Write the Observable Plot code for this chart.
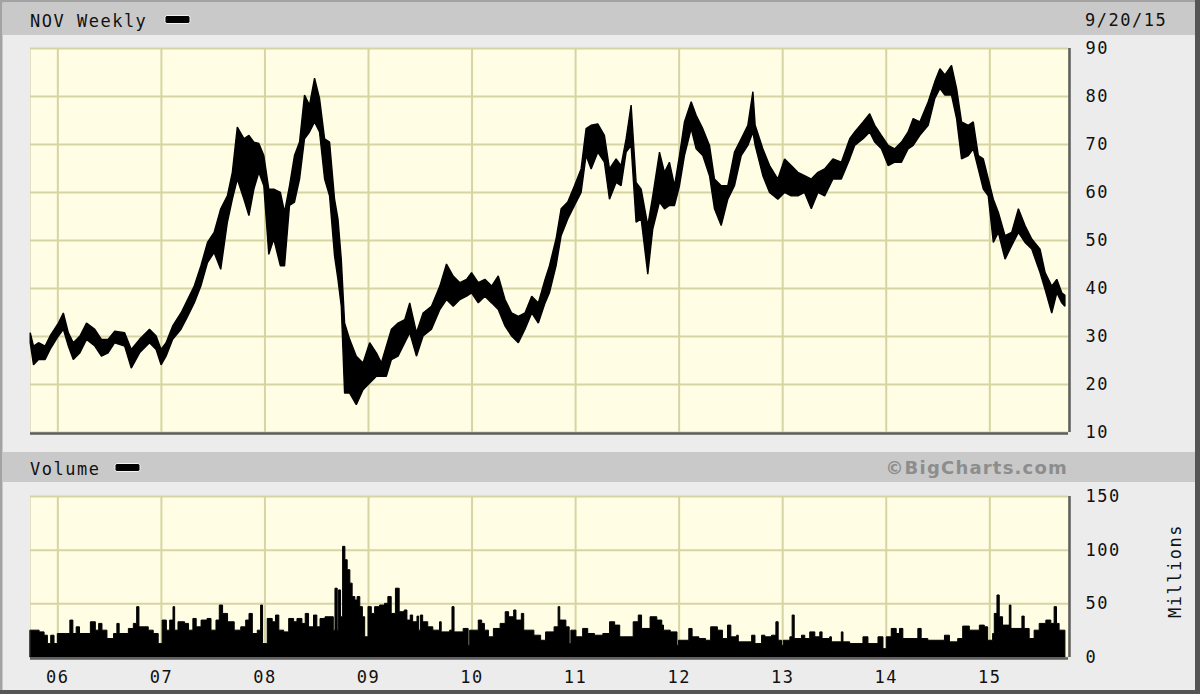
<!DOCTYPE html>
<html>
<head>
<meta charset="utf-8">
<script src="https://cdn.jsdelivr.net/npm/d3@7"></script>
<script src="https://cdn.jsdelivr.net/npm/@observablehq/plot@0.6"></script>
<style>
  html, body { margin: 0; padding: 0; background: #ececec; }
  #chart { position: relative; width: 1200px; height: 694px; background: #ececec; overflow: hidden; }
  #chart > svg, #chart > figure { position: absolute; margin: 0; }
</style>
</head>
<body>
<div id="chart"></div>
<script>
// ---------- data (time in decimal years) ----------
const priceT = [2005.738,2005.770,2005.818,2005.882,2005.930,2006.010,2006.058,2006.106,2006.154,2006.218,2006.282,2006.362,2006.426,2006.490,2006.554,2006.650,2006.714,2006.794,2006.890,2006.954,2007.002,2007.050,2007.114,2007.194,2007.258,2007.322,2007.386,2007.450,2007.514,2007.578,2007.642,2007.690,2007.738,2007.802,2007.850,2007.898,2007.946,2007.994,2008.042,2008.090,2008.154,2008.194,2008.242,2008.290,2008.339,2008.387,2008.435,2008.484,2008.532,2008.581,2008.629,2008.677,2008.710,2008.742,2008.774,2008.823,2008.887,2008.952,2009.016,2009.081,2009.129,2009.177,2009.226,2009.290,2009.355,2009.403,2009.468,2009.532,2009.613,2009.694,2009.758,2009.823,2009.887,2009.952,2010.000,2010.065,2010.129,2010.194,2010.258,2010.323,2010.387,2010.452,2010.516,2010.581,2010.645,2010.710,2010.752,2010.816,2010.865,2010.929,2010.994,2011.058,2011.106,2011.155,2011.219,2011.283,2011.332,2011.396,2011.444,2011.493,2011.541,2011.589,2011.638,2011.702,2011.750,2011.815,2011.863,2011.911,2011.960,2012.008,2012.056,2012.121,2012.169,2012.233,2012.298,2012.346,2012.411,2012.475,2012.539,2012.604,2012.668,2012.717,2012.739,2012.813,2012.878,2012.958,2013.023,2013.087,2013.151,2013.216,2013.281,2013.345,2013.410,2013.490,2013.571,2013.652,2013.700,2013.781,2013.845,2013.894,2013.958,2014.023,2014.087,2014.152,2014.216,2014.265,2014.329,2014.410,2014.474,2014.523,2014.571,2014.635,2014.684,2014.732,2014.797,2014.845,2014.894,2014.942,2014.990,2015.039,2015.087,2015.152,2015.216,2015.281,2015.345,2015.410,2015.490,2015.539,2015.603,2015.652,2015.700,2015.730];
const priceHigh = [30.7,27.9,28.6,27.9,30.0,32.7,34.8,30.7,28.6,30.0,32.7,31.4,29.3,29.3,31.0,30.7,27.2,29.3,31.4,30.0,27.2,28.6,32.1,34.8,37.6,40.4,44.6,49.5,51.6,56.5,59.2,64.1,73.5,71.1,71.8,70.4,70.1,67.6,60.6,60.6,59.9,55.8,61.3,67.6,70.4,80.2,78.1,83.7,79.5,71.1,70.4,58.5,54.4,46.0,32.7,29.3,25.8,24.4,28.6,26.5,24.4,27.9,31.4,32.7,33.4,36.9,30.7,34.8,36.2,40.4,45.0,42.5,41.1,41.8,43.2,41.1,41.8,40.4,42.5,37.6,34.8,34.1,34.8,38.3,36.9,41.8,44.6,50.2,56.5,57.9,61.3,64.8,73.2,73.9,74.2,71.8,64.8,66.9,65.5,71.1,78.1,62.0,60.6,53.0,59.2,68.3,64.1,66.2,61.3,67.6,74.6,78.8,76.0,73.2,69.7,62.7,61.3,61.3,68.3,71.1,73.9,80.9,73.9,69.0,65.5,62.7,66.9,65.5,64.1,63.4,62.7,64.1,64.8,66.9,66.2,71.1,72.5,74.6,76.3,73.9,71.8,69.7,69.0,70.4,72.5,75.3,74.6,78.8,83.0,85.7,84.4,86.4,81.6,74.6,73.9,74.6,67.6,66.9,62.7,58.5,55.8,50.9,51.6,56.5,53.0,50.2,48.1,43.2,40.4,41.8,39.0,38.5];
const priceLow = [28.6,24.0,25.1,25.1,27.2,30.0,31.4,27.9,25.1,26.5,29.3,27.9,25.8,26.5,28.6,27.9,23.3,26.5,28.6,27.2,24.0,25.8,29.3,31.4,34.1,36.9,40.4,45.3,47.4,43.9,53.7,58.5,62.7,58.5,55.1,60.6,64.1,61.3,47.0,50.2,44.6,44.6,57.2,57.9,62.7,71.1,72.5,74.6,72.5,62.7,59.2,46.7,41.8,36.2,18.1,18.1,15.7,18.8,20.2,21.6,21.6,21.6,25.1,25.8,28.6,30.7,25.8,30.0,31.4,35.5,37.6,36.2,37.6,38.3,39.0,36.9,38.3,36.9,35.5,32.1,30.0,28.6,31.4,34.8,32.7,36.9,39.0,44.6,50.9,54.4,57.2,59.9,67.6,64.8,68.3,66.2,58.5,62.0,61.3,68.3,69.7,53.7,54.4,42.9,52.3,57.9,56.5,57.2,57.2,61.3,67.6,73.2,69.0,67.6,63.4,56.5,53.0,58.5,61.3,67.6,69.7,72.5,69.7,63.4,59.9,58.5,59.9,59.2,59.2,59.9,56.5,59.9,59.2,62.7,62.7,66.9,69.7,71.1,72.5,70.4,69.0,65.5,66.2,66.2,69.0,69.7,71.8,73.9,79.5,81.6,80.2,80.2,75.3,66.9,67.6,69.0,64.8,60.6,59.2,49.5,51.6,46.0,48.8,51.6,49.5,48.1,43.2,39.7,34.8,39.0,36.9,36.2];

// weekly volume, millions (segment start times)
const volumeT = [2005.738,2005.824,2005.872,2005.904,2005.936,2005.968,2006.000,2006.080,2006.121,2006.150,2006.182,2006.214,2006.319,2006.367,2006.399,2006.431,2006.479,2006.543,2006.575,2006.597,2006.686,2006.734,2006.766,2006.788,2006.878,2006.926,2006.974,2007.012,2007.053,2007.085,2007.117,2007.133,2007.165,2007.229,2007.267,2007.309,2007.341,2007.388,2007.446,2007.484,2007.532,2007.564,2007.596,2007.644,2007.708,2007.771,2007.819,2007.851,2007.883,2007.931,2007.963,2007.982,2008.027,2008.075,2008.107,2008.139,2008.186,2008.234,2008.282,2008.314,2008.362,2008.394,2008.426,2008.474,2008.506,2008.537,2008.585,2008.633,2008.665,2008.681,2008.703,2008.716,2008.735,2008.755,2008.777,2008.799,2008.825,2008.847,2008.873,2008.895,2008.921,2008.946,2008.968,2009.000,2009.032,2009.064,2009.112,2009.160,2009.192,2009.224,2009.265,2009.301,2009.350,2009.376,2009.408,2009.431,2009.473,2009.489,2009.506,2009.528,2009.577,2009.626,2009.691,2009.707,2009.789,2009.811,2009.831,2009.919,2009.967,2009.982,2010.016,2010.065,2010.098,2010.124,2010.163,2010.211,2010.276,2010.325,2010.358,2010.407,2010.429,2010.481,2010.504,2010.602,2010.667,2010.715,2010.797,2010.836,2010.852,2010.911,2010.943,2010.959,2011.008,2011.073,2011.122,2011.187,2011.268,2011.333,2011.382,2011.431,2011.561,2011.610,2011.642,2011.724,2011.789,2011.837,2011.854,2011.919,2011.984,2011.998,2012.033,2012.098,2012.130,2012.195,2012.260,2012.309,2012.374,2012.423,2012.472,2012.504,2012.560,2012.576,2012.705,2012.737,2012.801,2012.833,2012.897,2012.939,2012.961,2012.994,2013.010,2013.074,2013.096,2013.116,2013.186,2013.218,2013.266,2013.315,2013.363,2013.385,2013.459,2013.475,2013.571,2013.587,2013.652,2013.780,2013.828,2013.925,2013.973,2014.005,2014.053,2014.101,2014.133,2014.165,2014.310,2014.342,2014.406,2014.567,2014.615,2014.695,2014.743,2014.807,2014.904,2014.952,2014.984,2015.032,2015.048,2015.074,2015.096,2015.128,2015.193,2015.209,2015.315,2015.337,2015.385,2015.433,2015.482,2015.546,2015.594,2015.626,2015.649,2015.674];
const volume = [25.0,23.4,20.3,12.5,20.3,12.5,21.9,21.9,34.4,21.9,28.1,21.9,32.8,25.0,31.3,25.0,17.2,21.9,31.3,21.9,26.6,31.3,46.9,28.1,25.0,21.9,12.5,34.4,25.0,34.4,46.9,25.0,32.8,31.3,25.0,35.9,28.1,34.4,35.9,25.0,34.4,48.4,40.6,32.8,25.0,28.1,34.4,40.6,21.9,25.0,48.4,12.5,35.9,32.8,39.1,25.0,23.4,35.9,32.8,35.9,31.3,40.6,28.1,39.1,28.1,35.9,37.5,37.5,25.0,64.1,25.0,62.5,37.5,103.1,90.6,81.3,68.8,56.3,53.1,56.3,46.9,37.5,18.8,46.9,40.6,46.9,48.4,50.0,56.3,40.6,64.1,42.2,43.8,34.4,39.1,32.8,38.1,25.0,39.1,32.8,28.1,25.0,32.8,23.4,25.0,46.9,23.4,26.6,10.9,25.0,25.0,34.4,31.3,25.0,18.8,26.6,31.3,42.2,37.5,43.8,34.4,40.6,25.0,20.3,15.6,23.4,28.1,46.9,34.4,28.1,12.5,25.0,18.8,26.6,21.9,20.3,21.9,32.8,29.7,18.8,32.8,39.1,26.6,37.5,34.4,29.7,25.0,23.4,10.9,15.6,15.6,26.6,18.8,17.2,15.6,28.1,25.0,17.2,29.7,18.8,20.3,14.1,20.3,12.5,20.3,18.8,20.3,32.8,15.6,10.9,15.6,18.8,39.1,17.2,20.3,17.2,23.4,18.8,23.4,17.2,18.8,14.1,23.4,14.1,12.5,18.8,12.5,18.8,7.8,18.8,26.6,21.9,26.6,17.2,26.6,17.2,15.6,20.3,14.1,17.2,28.8,25.0,29.7,28.1,15.6,21.9,40.6,57.8,37.5,29.7,48.4,26.6,38.1,26.6,17.2,25.0,31.3,34.4,31.3,46.9,31.3,25.0];
const volumeEnd = 2015.73;

const yearTicks = [2006,2007,2008,2009,2010,2011,2012,2013,2014,2015];
const yearLabels = ["06","07","08","09","10","11","12","13","14","15"];
const priceTicks = [10,20,30,40,50,60,70,80,90];
const volumeTicks = [0,50,100,150];
const xDomain = [2005.736, 2015.76];

// ---------- build tables ----------
const nP = Math.min(priceT.length, priceHigh.length, priceLow.length);
const priceRows = d3.range(nP).map(i => ({t: priceT[i], hi: priceHigh[i], lo: priceLow[i]}));
const nV = Math.min(volumeT.length, volume.length);
// step outline: each value holds until the next time
const volRows = d3.range(nV).map(i => ({t: volumeT[i], v: volume[i]}));
volRows.push({t: volumeEnd, v: volume[nV - 1]});

const plotBg = "#fffee4";
const gridColor = "#d7d4a3";
const edgeDark = "#5e5e5e";
const axisStyle = {fontFamily: "'DejaVu Sans Mono', monospace", fontSize: "17px", letterSpacing: "1.5px", color: "#111", background: "transparent", overflow: "visible"};

const chart = document.getElementById("chart");

// price panel
const price = Plot.plot({
  width: 1200, height: 400,
  marginTop: 8, marginBottom: 8, marginLeft: 30, marginRight: 132,
  x: {domain: xDomain, axis: null},
  y: {domain: [10, 90], axis: null},
  style: axisStyle,
  marks: [
    Plot.frame({fill: plotBg, stroke: "#e2e0c4"}),
    Plot.gridX(yearTicks, {stroke: gridColor, strokeOpacity: 1, strokeWidth: 2}),
    Plot.gridY(priceTicks, {stroke: gridColor, strokeOpacity: 1, strokeWidth: 2}),
    Plot.areaY(priceRows, {x: "t", y1: "lo", y2: "hi", fill: "#000", stroke: "#000", strokeWidth: 1.4, strokeLinejoin: "miter"}),
    Plot.ruleY([10], {stroke: edgeDark, strokeWidth: 2.5, dy: 1}),
    Plot.ruleX([xDomain[1]], {stroke: edgeDark, strokeWidth: 2.5, dx: 1}),
    Plot.axisY(priceTicks, {anchor: "right", tickSize: 0, tickPadding: 17, label: null, fill: "#111"})
  ]
});
price.style.left = "0px"; price.style.top = "40px";
chart.appendChild(price);

// volume panel
const vol = Plot.plot({
  width: 1200, height: 206,
  marginTop: 8, marginBottom: 37, marginLeft: 30, marginRight: 132,
  x: {domain: xDomain, axis: null},
  y: {domain: [0, 150], axis: null},
  style: axisStyle,
  marks: [
    Plot.frame({fill: plotBg, stroke: "#e2e0c4"}),
    Plot.gridX(yearTicks, {stroke: gridColor, strokeOpacity: 1, strokeWidth: 2}),
    Plot.gridY(volumeTicks, {stroke: gridColor, strokeOpacity: 1, strokeWidth: 2}),
    Plot.areaY(volRows, {x: "t", y1: 0, y2: "v", curve: "step-after", fill: "#000", stroke: "#000", strokeWidth: 1}),
    Plot.ruleY([0], {stroke: edgeDark, strokeWidth: 2.5, dy: 1}),
    Plot.ruleX([xDomain[1]], {stroke: edgeDark, strokeWidth: 2.5, dx: 1}),
    Plot.axisY(volumeTicks, {anchor: "right", tickSize: 0, tickPadding: 17, label: null, fill: "#111"}),
    Plot.axisX(yearTicks, {anchor: "bottom", tickSize: 0, tickPadding: 13, label: null, fill: "#111",
      tickFormat: d => yearLabels[yearTicks.indexOf(d)]})
  ]
});
vol.style.left = "0px"; vol.style.top = "488px";
chart.appendChild(vol);

// overlay: bands, titles, frame
const ns = "http://www.w3.org/2000/svg";
const ov = d3.select(chart).append("svg")
  .attr("xmlns", ns).attr("width", 1200).attr("height", 694)
  .style("left", "0px").style("top", "0px").style("pointer-events", "none");

const mono = "'DejaVu Sans Mono', monospace";
ov.append("rect").attr("x", 3).attr("y", 3).attr("width", 1192).attr("height", 32).attr("fill", "#c9c9c9");
ov.append("rect").attr("x", 3).attr("y", 452).attr("width", 1192).attr("height", 30).attr("fill", "#c9c9c9");

function label(x, y, text, opts = {}) {
  return ov.append("text").attr("x", x).attr("y", y)
    .attr("font-family", opts.family || mono)
    .attr("font-size", opts.size || 17)
    .attr("font-weight", opts.weight || "normal")
    .attr("letter-spacing", opts.spacing != null ? opts.spacing : 1.5)
    .attr("text-anchor", opts.anchor || "start")
    .attr("fill", opts.fill || "#111")
    .text(text);
}
label(30, 27, "NOV Weekly");
ov.append("rect").attr("x", 165).attr("y", 15.5).attr("width", 25).attr("height", 8).attr("rx", 2)
  .attr("fill", "#000").attr("stroke", "#f2f2f2").attr("stroke-width", 1);
label(1085, 26, "9/20/15");

label(30, 475, "Volume");
ov.append("rect").attr("x", 115).attr("y", 463.5).attr("width", 25).attr("height", 8).attr("rx", 2)
  .attr("fill", "#000").attr("stroke", "#f2f2f2").attr("stroke-width", 1);
label(1068, 474, "\u00A9BigCharts.com", {family: "'DejaVu Sans', sans-serif", weight: "bold", size: 18, spacing: 1.2, anchor: "end", fill: "#8d8d8d"});

ov.append("text")
  .attr("transform", "translate(1181,571) rotate(-90)")
  .attr("font-family", mono).attr("font-size", 17).attr("letter-spacing", 1.5)
  .attr("text-anchor", "middle").attr("fill", "#111")
  .text("Millions");

// outer border
ov.append("rect").attr("x", 0).attr("y", 0).attr("width", 1200).attr("height", 2.5).attr("fill", "#a3a3a3");
ov.append("rect").attr("x", 0).attr("y", 0).attr("width", 2.5).attr("height", 694).attr("fill", "#a3a3a3");
ov.append("rect").attr("x", 1195).attr("y", 0).attr("width", 5).attr("height", 694).attr("fill", "#555");
ov.append("rect").attr("x", 0).attr("y", 690).attr("width", 1200).attr("height", 4).attr("fill", "#555");
</script>
</body>
</html>
